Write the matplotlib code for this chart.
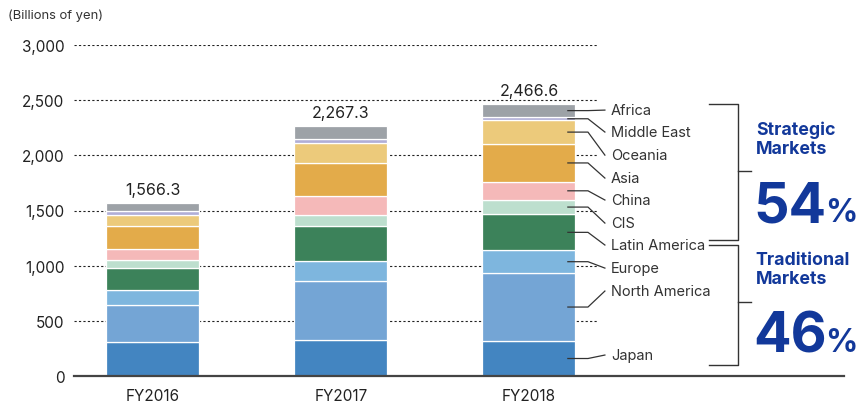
import matplotlib.pyplot as plt

plt.rcParams['font.family'] = ['Inter', 'DejaVu Sans']

years = ["FY2016", "FY2017", "FY2018"]
totals = [1566.3, 2267.3, 2466.6]
regions = ["Japan", "North America", "Europe", "Latin America", "CIS",
           "China", "Asia", "Oceania", "Middle East", "Africa"]
sales = {
    "Japan":         [305, 326, 317],
    "North America": [338, 532, 616],
    "Europe":        [139, 184, 206],
    "Latin America": [199, 314, 326],
    "CIS":           [73, 105, 132],
    "China":         [97, 167, 163],
    "Asia":          [205, 299, 342],
    "Oceania":       [105, 181, 217],
    "Middle East":   [37, 42, 25],
    "Africa":        [68.3, 117.3, 122.6],
}
colors = ["#4385c1", "#74a5d5", "#7eb6de", "#3c825a", "#bddfce",
          "#f5b9b9", "#e3ab4a", "#ecca7b", "#b1aed6", "#9da2a7"]
# where each region name sits on the right-hand side (in yen scale)
label_y = [190, 770, 978, 1187, 1386, 1595, 1794, 2002, 2211, 2410]
strategic_share = "54"
traditional_share = "46"

navy = "#12389a"
ink = "#333333"

fig = plt.figure(figsize=(8.57, 4.06), dpi=100)
ax = fig.add_axes([74 / 857, 1 - 377 / 406, (597 - 74) / 857, 331 / 406])

x = range(len(years))
bottoms = [0, 0, 0]
for name, c in zip(regions, colors):
    vals = sales[name]
    ax.bar(x, vals, bottom=bottoms, width=0.495, color=c, edgecolor="white",
           linewidth=0.9, zorder=3)
    bottoms = [b + v for b, v in zip(bottoms, vals)]

for i, t in enumerate(totals):
    ax.text(i, t + 55, f"{t:,.1f}", ha="center", va="bottom", fontsize=11.5, color="#222")

ax.set_xlim(-0.42, 2.362)
ax.set_ylim(0, 3000)
ax.set_yticks(range(0, 3001, 500))
ax.set_yticklabels([f"{v:,}" for v in range(0, 3001, 500)])
ax.set_xticks(list(x))
ax.set_xticklabels(years)
ax.tick_params(axis="both", length=0, labelsize=11, colors="#222")
ax.tick_params(axis="y", pad=7)
ax.tick_params(axis="x", pad=9)
for s in ax.spines.values():
    s.set_visible(False)
for v in range(500, 3001, 500):
    ax.axhline(v, color="#222", linestyle=(0, (2, 2)), linewidth=0.8, zorder=1)

# baseline runs under the labels too
ax.plot([-0.42, 3.676], [0, 0], color="#444", linewidth=1.6, clip_on=False, zorder=4)

# leader lines from the FY2018 segments to their names
cum = 0
for name, ly in zip(regions, label_y):
    v = sales[name][2]
    mid = cum + v / 2
    cum += v
    ax.plot([2.207, 2.314, 2.404], [mid, mid, ly], color=ink, linewidth=0.9,
            clip_on=False, zorder=5)
    ax.text(2.436, ly, name, ha="left", va="center", fontsize=10.5, color=ink)

# brackets for the two market groups
bk = dict(color=ink, linewidth=1.0, clip_on=False)
ax.plot([2.957, 3.112, 3.112, 2.957], [2461, 2461, 1235, 1235], **bk)
ax.plot([3.112, 3.181], [1857, 1857], **bk)
ax.plot([2.957, 3.112, 3.112, 2.957], [1187, 1187, 100, 100], **bk)
ax.plot([3.112, 3.181], [673, 673], **bk)

big = dict(weight="bold", color=navy)
ax.text(3.207, 2147, "Strategic\nMarkets", ha="left", va="center", fontsize=12.8,
        linespacing=1.15, **big)
ax.text(3.207, 969, "Traditional\nMarkets", ha="left", va="center", fontsize=12.8,
        linespacing=1.15, **big)
ax.text(3.195, 1404, strategic_share, ha="left", va="baseline", fontsize=40, **big)
ax.text(3.195, 226, traditional_share, ha="left", va="baseline", fontsize=40, **big)
ax.text(3.575, 1404, "%", ha="left", va="baseline", fontsize=23, **big)
ax.text(3.575, 226, "%", ha="left", va="baseline", fontsize=23, **big)

fig.text(8 / 857, 1 - 16 / 406, "(Billions of yen)", ha="left", va="center",
         fontsize=9.4, color=ink)

fig.savefig("out.png", dpi=100)
